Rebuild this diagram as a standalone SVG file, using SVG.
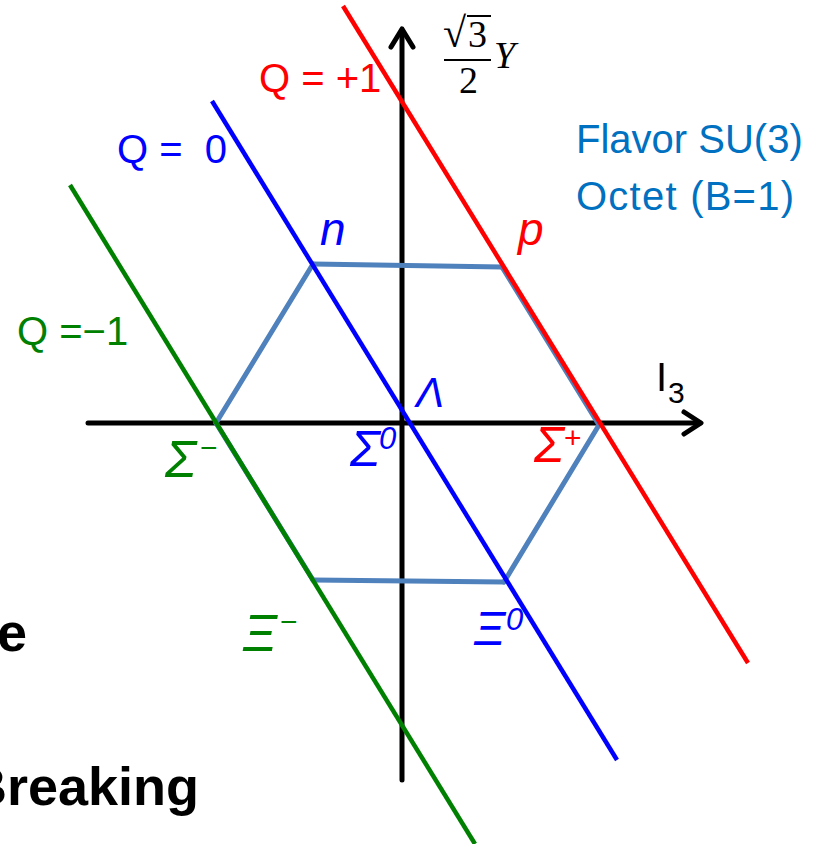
<svg xmlns="http://www.w3.org/2000/svg" width="815" height="844" viewBox="0 0 815 844">
<style>
.lbl{font-family:"Liberation Sans","Arial",sans-serif;white-space:pre}
.it{font-style:italic}
.math{font-family:"Liberation Serif","DejaVu Serif",serif}
.ax{stroke:#000;stroke-width:5;fill:none;stroke-linecap:round;stroke-linejoin:round}
.hex{stroke:#4F81BD;stroke-width:5;fill:none;stroke-linecap:round}
</style>
<rect width="815" height="844" fill="#fff"/>
<g id="axes">
<line class="ax" x1="88" y1="423" x2="700" y2="423"/>
<polyline class="ax" points="684,412 701,423 684,434"/>
<line class="ax" x1="402" y1="780" x2="402" y2="30"/>
<polyline class="ax" points="391,47 402,29 413,47"/>
</g>
<g id="connectors">
<line class="hex" x1="313" y1="264" x2="502" y2="267"/>
<line class="hex" x1="313" y1="580" x2="504" y2="582"/>
<line class="hex" x1="313" y1="264" x2="216" y2="423"/>
<line class="hex" x1="216" y1="423" x2="313" y2="580"/>
<line class="hex" x1="599" y1="425" x2="504" y2="582"/>
<line class="hex" x1="502" y1="267" x2="599" y2="425"/>
<line x1="343" y1="6" x2="748" y2="663" stroke="#FF0000" stroke-width="4.5"/>
<line x1="212" y1="101" x2="617" y2="760" stroke="#0000FF" stroke-width="4.5"/>
<line x1="70" y1="185" x2="475" y2="844" stroke="#008000" stroke-width="4.5"/>
</g>
<g id="labels-q">
<text class="lbl" x="259" y="92" font-size="40" fill="#FF0000">Q = +1</text>
<text class="lbl" x="117" y="163" font-size="40" fill="#0000FF" xml:space="preserve">Q =  0</text>
<text class="lbl" x="17" y="345" font-size="40" fill="#008000">Q =−1</text>
</g>
<g id="title">
<text class="lbl" x="576" y="153" font-size="40" fill="#0070C0">Flavor SU(3)</text>
<text class="lbl" x="576" y="210" font-size="40" fill="#0070C0" textLength="218">Octet (B=1)</text>
</g>
<g id="yaxis-label">
<text class="math" x="443" y="47" font-size="42" fill="#000">√</text>
<line x1="467" y1="16" x2="491" y2="16" stroke="#000" stroke-width="2"/>
<text class="math" x="468" y="47" font-size="38" fill="#000">3</text>
<line x1="444" y1="60" x2="491" y2="60" stroke="#000" stroke-width="2"/>
<text class="math" x="459" y="93" font-size="38" fill="#000">2</text>
<text class="math it" x="494" y="68" font-size="38" fill="#000">Y</text>
</g>
<g id="xaxis-label">
<text class="lbl" x="656" y="391" font-size="40" fill="#000">I</text>
<text class="lbl" x="668" y="403" font-size="30" fill="#000">3</text>
</g>
<g id="node-n"><text class="lbl it" x="320" y="245" font-size="46" fill="#0000FF">n</text></g>
<g id="node-p"><text class="lbl it" x="518" y="245" font-size="46" fill="#FF0000">p</text></g>
<g id="node-lambda"><text class="lbl it" x="416" y="407" font-size="42" fill="#0000FF">Λ</text></g>
<g id="node-sigma-minus">
<text class="lbl it" x="165" y="477" font-size="52" fill="#008000">Σ</text>
<text class="lbl" x="200" y="458" font-size="30" fill="#008000">−</text>
</g>
<g id="node-sigma0">
<text class="lbl it" x="350" y="466" font-size="50" fill="#0000FF">Σ</text>
<text class="lbl it" x="379" y="449" font-size="31" fill="#0000FF">0</text>
</g>
<g id="node-sigma-plus">
<text class="lbl it" x="534" y="462" font-size="50" fill="#FF0000">Σ</text>
<text class="lbl" x="564" y="448" font-size="30" fill="#FF0000">+</text>
</g>
<g id="node-xi-minus">
<text class="lbl it" x="243" y="651" font-size="52" fill="#008000">Ξ</text>
<text class="lbl" x="280" y="632" font-size="30" fill="#008000">−</text>
</g>
<g id="node-xi0">
<text class="lbl it" x="474" y="645" font-size="48" fill="#0000FF">Ξ</text>
<text class="lbl it" x="506" y="630" font-size="31" fill="#0000FF">0</text>
</g>
<g id="cut-text">
<text class="lbl" x="-3" y="651" font-size="54" font-weight="bold" fill="#000">e</text>
<text class="lbl" x="199" y="805" font-size="54" font-weight="bold" fill="#000" text-anchor="end">Breaking</text>
</g>
</svg>
